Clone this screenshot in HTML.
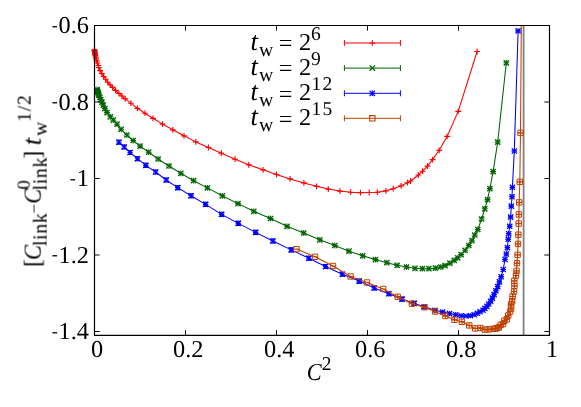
<!DOCTYPE html>
<html><head><meta charset="utf-8"><title>plot</title>
<style>html,body{margin:0;padding:0;background:#fff;width:581px;height:407px;overflow:hidden}
body{font-family:"Liberation Serif",serif;position:relative}</style></head>
<body>
<svg width="581" height="407" viewBox="0 0 581 407" style="display:block;position:absolute;left:0;top:0">
<rect width="581" height="407" fill="#fff"/>
<line x1="523.6" y1="25.5" x2="523.6" y2="335.3" stroke="#808080" stroke-width="1.8"/>
<g stroke-linejoin="round">
<polyline fill="none" stroke="#ff0000" stroke-width="1.05" points="94.5,49.5 94.5,49.8 94.6,50.3 94.6,50.7 94.7,51.3 94.8,51.9 94.9,52.7 95.0,53.6 95.1,54.6 95.4,55.8 95.7,57.2 96.1,58.9 96.7,60.8 97.4,63.0 98.2,65.5 98.8,67.5 100.1,70.6 101.9,73.6 103.6,76.5 105.7,79.2 107.7,82.2 110.1,84.8 112.5,87.3 115.6,90.3 118.9,93.3 122.0,96.0 125.2,98.9 130.9,103.2 137.4,108.3 145.0,113.2 153.0,118.3 162.5,124.1 172.8,129.8 184.0,135.8 195.8,141.9 208.4,147.5 221.3,153.2 235.1,159.2 248.8,164.8 263.0,169.8 276.5,174.5 290.1,178.9 303.9,182.9 316.6,186.3 328.3,189.1 340.0,191.1 350.7,192.2 360.5,192.7 369.2,192.5 377.3,192.2 385.9,190.8 393.2,188.7 401.1,185.8 407.5,182.7 410.6,181.0 418.3,175.0 422.6,171.2 427.5,166.1 432.6,159.6 439.2,150.3 447.2,136.3 458.2,111.4 477.1,51.5"/>
<path d="M91.6,49.5h5.8M94.5,46.6v5.8M91.6,49.8h5.8M94.5,46.9v5.8M91.7,50.3h5.8M94.6,47.4v5.8M91.7,50.7h5.8M94.6,47.8v5.8M91.8,51.3h5.8M94.7,48.4v5.8M91.9,51.9h5.8M94.8,49.0v5.8M92.0,52.7h5.8M94.9,49.8v5.8M92.1,53.6h5.8M95.0,50.7v5.8M92.2,54.6h5.8M95.1,51.7v5.8M92.5,55.8h5.8M95.4,52.9v5.8M92.8,57.2h5.8M95.7,54.3v5.8M93.2,58.9h5.8M96.1,56.0v5.8M93.8,60.8h5.8M96.7,57.9v5.8M94.5,63.0h5.8M97.4,60.1v5.8M95.3,65.5h5.8M98.2,62.6v5.8M95.9,67.5h5.8M98.8,64.6v5.8M97.2,70.6h5.8M100.1,67.7v5.8M99.0,73.6h5.8M101.9,70.7v5.8M100.7,76.5h5.8M103.6,73.6v5.8M102.8,79.2h5.8M105.7,76.3v5.8M104.8,82.2h5.8M107.7,79.3v5.8M107.2,84.8h5.8M110.1,81.9v5.8M109.6,87.3h5.8M112.5,84.4v5.8M112.7,90.3h5.8M115.6,87.4v5.8M116.0,93.3h5.8M118.9,90.4v5.8M119.1,96.0h5.8M122.0,93.1v5.8M122.3,98.9h5.8M125.2,96.0v5.8M128.0,103.2h5.8M130.9,100.3v5.8M134.5,108.3h5.8M137.4,105.4v5.8M142.1,113.2h5.8M145.0,110.3v5.8M150.1,118.3h5.8M153.0,115.4v5.8M159.6,124.1h5.8M162.5,121.2v5.8M169.9,129.8h5.8M172.8,126.9v5.8M181.1,135.8h5.8M184.0,132.9v5.8M192.9,141.9h5.8M195.8,139.0v5.8M205.5,147.5h5.8M208.4,144.6v5.8M218.4,153.2h5.8M221.3,150.3v5.8M232.2,159.2h5.8M235.1,156.3v5.8M245.9,164.8h5.8M248.8,161.9v5.8M260.1,169.8h5.8M263.0,166.9v5.8M273.6,174.5h5.8M276.5,171.6v5.8M287.2,178.9h5.8M290.1,176.0v5.8M301.0,182.9h5.8M303.9,180.0v5.8M313.7,186.3h5.8M316.6,183.4v5.8M325.4,189.1h5.8M328.3,186.2v5.8M337.1,191.1h5.8M340.0,188.2v5.8M347.8,192.2h5.8M350.7,189.3v5.8M357.6,192.7h5.8M360.5,189.8v5.8M366.3,192.5h5.8M369.2,189.6v5.8M374.4,192.2h5.8M377.3,189.3v5.8M383.0,190.8h5.8M385.9,187.9v5.8M390.3,188.7h5.8M393.2,185.8v5.8M398.2,185.8h5.8M401.1,182.9v5.8M404.6,182.7h5.8M407.5,179.8v5.8M407.7,181.0h5.8M410.6,178.1v5.8M415.4,175.0h5.8M418.3,172.1v5.8M419.7,171.2h5.8M422.6,168.3v5.8M424.6,166.1h5.8M427.5,163.2v5.8M429.7,159.6h5.8M432.6,156.7v5.8M436.3,150.3h5.8M439.2,147.4v5.8M444.3,136.3h5.8M447.2,133.4v5.8M455.3,111.4h5.8M458.2,108.5v5.8M474.2,51.5h5.8M477.1,48.6v5.8" stroke="#ff0000" stroke-width="1.15" fill="none"/>
<polyline fill="none" stroke="#006400" stroke-width="1.05" points="97.0,89.5 97.3,90.4 97.6,91.4 98.0,92.5 98.5,93.9 99.0,95.5 99.9,97.4 100.8,99.5 101.9,102.1 103.2,105.1 104.9,108.6 107.0,112.6 110.3,116.8 113.3,120.2 117.0,124.2 121.1,129.3 126.8,135.0 133.2,140.5 140.1,146.1 148.7,152.2 158.1,159.0 169.0,166.0 180.8,173.3 193.6,180.7 207.4,187.9 222.3,195.8 238.0,203.6 253.8,211.3 270.5,218.5 287.0,226.3 303.7,233.0 319.8,239.8 334.8,245.5 349.0,251.2 362.7,255.8 375.4,259.6 386.8,262.7 397.1,265.3 406.5,267.0 415.0,268.3 422.4,268.7 428.9,268.7 435.3,268.2 440.8,267.0 445.1,265.6 449.9,263.2 454.2,260.3 457.7,257.8 461.1,254.6 465.1,250.3 468.8,245.5 471.9,240.7 474.8,235.0 477.8,229.5 481.6,219.0 484.8,208.8 487.5,199.6 489.9,188.6 493.1,171.6 497.7,142.1 506.3,62.8"/>
<path d="M94.1,89.5h5.8M97.0,86.6v5.8M94.4,90.4h5.8M97.3,87.5v5.8M94.7,91.4h5.8M97.6,88.5v5.8M95.1,92.5h5.8M98.0,89.6v5.8M95.6,93.9h5.8M98.5,91.0v5.8M96.1,95.5h5.8M99.0,92.6v5.8M97.0,97.4h5.8M99.9,94.5v5.8M97.9,99.5h5.8M100.8,96.6v5.8M99.0,102.1h5.8M101.9,99.2v5.8M100.3,105.1h5.8M103.2,102.2v5.8M102.0,108.6h5.8M104.9,105.7v5.8M104.1,112.6h5.8M107.0,109.7v5.8M107.4,116.8h5.8M110.3,113.9v5.8M110.4,120.2h5.8M113.3,117.3v5.8M114.1,124.2h5.8M117.0,121.3v5.8M118.2,129.3h5.8M121.1,126.4v5.8M123.9,135.0h5.8M126.8,132.1v5.8M130.3,140.5h5.8M133.2,137.6v5.8M137.2,146.1h5.8M140.1,143.2v5.8M145.8,152.2h5.8M148.7,149.3v5.8M155.2,159.0h5.8M158.1,156.1v5.8M166.1,166.0h5.8M169.0,163.1v5.8M177.9,173.3h5.8M180.8,170.4v5.8M190.7,180.7h5.8M193.6,177.8v5.8M204.5,187.9h5.8M207.4,185.0v5.8M219.4,195.8h5.8M222.3,192.9v5.8M235.1,203.6h5.8M238.0,200.7v5.8M250.9,211.3h5.8M253.8,208.4v5.8M267.6,218.5h5.8M270.5,215.6v5.8M284.1,226.3h5.8M287.0,223.4v5.8M300.8,233.0h5.8M303.7,230.1v5.8M316.9,239.8h5.8M319.8,236.9v5.8M331.9,245.5h5.8M334.8,242.6v5.8M346.1,251.2h5.8M349.0,248.3v5.8M359.8,255.8h5.8M362.7,252.9v5.8M372.5,259.6h5.8M375.4,256.7v5.8M383.9,262.7h5.8M386.8,259.8v5.8M394.2,265.3h5.8M397.1,262.4v5.8M403.6,267.0h5.8M406.5,264.1v5.8M412.1,268.3h5.8M415.0,265.4v5.8M419.5,268.7h5.8M422.4,265.8v5.8M426.0,268.7h5.8M428.9,265.8v5.8M432.4,268.2h5.8M435.3,265.3v5.8M437.9,267.0h5.8M440.8,264.1v5.8M442.2,265.6h5.8M445.1,262.7v5.8M447.0,263.2h5.8M449.9,260.3v5.8M451.3,260.3h5.8M454.2,257.4v5.8M454.8,257.8h5.8M457.7,254.9v5.8M458.2,254.6h5.8M461.1,251.7v5.8M462.2,250.3h5.8M465.1,247.4v5.8M465.9,245.5h5.8M468.8,242.6v5.8M469.0,240.7h5.8M471.9,237.8v5.8M471.9,235.0h5.8M474.8,232.1v5.8M474.9,229.5h5.8M477.8,226.6v5.8M478.7,219.0h5.8M481.6,216.1v5.8M481.9,208.8h5.8M484.8,205.9v5.8M484.6,199.6h5.8M487.5,196.7v5.8M487.0,188.6h5.8M489.9,185.7v5.8M490.2,171.6h5.8M493.1,168.7v5.8M494.8,142.1h5.8M497.7,139.2v5.8M503.4,62.8h5.8M506.3,59.9v5.8" stroke="#006400" stroke-width="1.05" fill="none"/>
<path d="M94.4,86.9l5.2,5.2M94.4,92.1l5.2,-5.2M94.7,87.8l5.2,5.2M94.7,93.0l5.2,-5.2M95.0,88.8l5.2,5.2M95.0,94.0l5.2,-5.2M95.4,89.9l5.2,5.2M95.4,95.1l5.2,-5.2M95.9,91.3l5.2,5.2M95.9,96.5l5.2,-5.2M96.4,92.9l5.2,5.2M96.4,98.1l5.2,-5.2M97.3,94.8l5.2,5.2M97.3,100.0l5.2,-5.2M98.2,96.9l5.2,5.2M98.2,102.1l5.2,-5.2M99.3,99.5l5.2,5.2M99.3,104.7l5.2,-5.2M100.6,102.5l5.2,5.2M100.6,107.7l5.2,-5.2M102.3,106.0l5.2,5.2M102.3,111.2l5.2,-5.2M104.4,110.0l5.2,5.2M104.4,115.2l5.2,-5.2M107.7,114.2l5.2,5.2M107.7,119.4l5.2,-5.2M110.7,117.6l5.2,5.2M110.7,122.8l5.2,-5.2M114.4,121.6l5.2,5.2M114.4,126.8l5.2,-5.2M118.5,126.7l5.2,5.2M118.5,131.9l5.2,-5.2M124.2,132.4l5.2,5.2M124.2,137.6l5.2,-5.2M130.6,137.9l5.2,5.2M130.6,143.1l5.2,-5.2M137.5,143.5l5.2,5.2M137.5,148.7l5.2,-5.2M146.1,149.6l5.2,5.2M146.1,154.8l5.2,-5.2M155.5,156.4l5.2,5.2M155.5,161.6l5.2,-5.2M166.4,163.4l5.2,5.2M166.4,168.6l5.2,-5.2M178.2,170.7l5.2,5.2M178.2,175.9l5.2,-5.2M191.0,178.1l5.2,5.2M191.0,183.3l5.2,-5.2M204.8,185.3l5.2,5.2M204.8,190.5l5.2,-5.2M219.7,193.2l5.2,5.2M219.7,198.4l5.2,-5.2M235.4,201.0l5.2,5.2M235.4,206.2l5.2,-5.2M251.2,208.7l5.2,5.2M251.2,213.9l5.2,-5.2M267.9,215.9l5.2,5.2M267.9,221.1l5.2,-5.2M284.4,223.7l5.2,5.2M284.4,228.9l5.2,-5.2M301.1,230.4l5.2,5.2M301.1,235.6l5.2,-5.2M317.2,237.2l5.2,5.2M317.2,242.4l5.2,-5.2M332.2,242.9l5.2,5.2M332.2,248.1l5.2,-5.2M346.4,248.6l5.2,5.2M346.4,253.8l5.2,-5.2M360.1,253.2l5.2,5.2M360.1,258.4l5.2,-5.2M372.8,257.0l5.2,5.2M372.8,262.2l5.2,-5.2M384.2,260.1l5.2,5.2M384.2,265.3l5.2,-5.2M394.5,262.7l5.2,5.2M394.5,267.9l5.2,-5.2M403.9,264.4l5.2,5.2M403.9,269.6l5.2,-5.2M412.4,265.7l5.2,5.2M412.4,270.9l5.2,-5.2M419.8,266.1l5.2,5.2M419.8,271.3l5.2,-5.2M426.3,266.1l5.2,5.2M426.3,271.3l5.2,-5.2M432.7,265.6l5.2,5.2M432.7,270.8l5.2,-5.2M438.2,264.4l5.2,5.2M438.2,269.6l5.2,-5.2M442.5,263.0l5.2,5.2M442.5,268.2l5.2,-5.2M447.3,260.6l5.2,5.2M447.3,265.8l5.2,-5.2M451.6,257.7l5.2,5.2M451.6,262.9l5.2,-5.2M455.1,255.2l5.2,5.2M455.1,260.4l5.2,-5.2M458.5,252.0l5.2,5.2M458.5,257.2l5.2,-5.2M462.5,247.7l5.2,5.2M462.5,252.9l5.2,-5.2M466.2,242.9l5.2,5.2M466.2,248.1l5.2,-5.2M469.3,238.1l5.2,5.2M469.3,243.3l5.2,-5.2M472.2,232.4l5.2,5.2M472.2,237.6l5.2,-5.2M475.2,226.9l5.2,5.2M475.2,232.1l5.2,-5.2M479.0,216.4l5.2,5.2M479.0,221.6l5.2,-5.2M482.2,206.2l5.2,5.2M482.2,211.4l5.2,-5.2M484.9,197.0l5.2,5.2M484.9,202.2l5.2,-5.2M487.3,186.0l5.2,5.2M487.3,191.2l5.2,-5.2M490.5,169.0l5.2,5.2M490.5,174.2l5.2,-5.2M495.1,139.5l5.2,5.2M495.1,144.7l5.2,-5.2M503.7,60.2l5.2,5.2M503.7,65.4l5.2,-5.2" stroke="#006400" stroke-width="1.35" fill="none"/>
<polyline fill="none" stroke="#0000ff" stroke-width="1.05" points="118.9,142.2 124.2,147.0 130.1,152.5 137.5,158.7 145.8,165.4 155.6,172.0 166.2,180.0 177.7,187.6 191.0,195.8 205.6,204.4 221.6,214.4 238.3,223.4 255.6,232.4 272.9,241.0 291.3,249.9 308.9,258.2 325.5,266.5 342.4,274.2 359.2,281.1 374.2,288.0 388.8,293.7 402.0,299.1 414.1,303.4 424.4,306.8 434.8,310.3 442.6,312.0 449.5,313.6 455.7,314.7 461.2,315.8 466.1,316.0 470.4,315.7 474.1,314.7 477.3,313.3 480.0,311.8 483.0,310.2 484.9,308.4 486.9,306.4 488.7,304.0 490.6,301.2 492.4,298.1 494.1,294.6 495.9,290.8 497.7,286.6 499.4,281.9 501.1,276.7 503.2,269.5 505.0,259.5 506.3,254.0 507.4,247.6 508.2,239.3 508.7,233.7 509.7,226.3 510.6,217.1 511.3,206.1 512.0,196.8 512.4,187.3 514.3,151.0 518.1,30.9"/>
<path d="M116.2,140.20h5.4M116.2,144.20h5.4M118.9,140.20v4.00" stroke="#0000ff" stroke-width="1.1" fill="none"/><path d="M121.5,145.00h5.4M121.5,149.00h5.4M124.2,145.00v4.00" stroke="#0000ff" stroke-width="1.1" fill="none"/><path d="M127.4,150.50h5.4M127.4,154.50h5.4M130.1,150.50v4.00" stroke="#0000ff" stroke-width="1.1" fill="none"/><path d="M134.8,156.70h5.4M134.8,160.70h5.4M137.5,156.70v4.00" stroke="#0000ff" stroke-width="1.1" fill="none"/><path d="M143.1,163.40h5.4M143.1,167.40h5.4M145.8,163.40v4.00" stroke="#0000ff" stroke-width="1.1" fill="none"/><path d="M152.9,170.00h5.4M152.9,174.00h5.4M155.6,170.00v4.00" stroke="#0000ff" stroke-width="1.1" fill="none"/><path d="M163.5,178.00h5.4M163.5,182.00h5.4M166.2,178.00v4.00" stroke="#0000ff" stroke-width="1.1" fill="none"/><path d="M175.0,185.60h5.4M175.0,189.60h5.4M177.7,185.60v4.00" stroke="#0000ff" stroke-width="1.1" fill="none"/><path d="M188.3,193.80h5.4M188.3,197.80h5.4M191.0,193.80v4.00" stroke="#0000ff" stroke-width="1.1" fill="none"/><path d="M202.9,202.40h5.4M202.9,206.40h5.4M205.6,202.40v4.00" stroke="#0000ff" stroke-width="1.1" fill="none"/><path d="M218.9,212.40h5.4M218.9,216.40h5.4M221.6,212.40v4.00" stroke="#0000ff" stroke-width="1.1" fill="none"/><path d="M235.6,221.40h5.4M235.6,225.40h5.4M238.3,221.40v4.00" stroke="#0000ff" stroke-width="1.1" fill="none"/><path d="M252.9,230.40h5.4M252.9,234.40h5.4M255.6,230.40v4.00" stroke="#0000ff" stroke-width="1.1" fill="none"/><path d="M270.2,239.00h5.4M270.2,243.00h5.4M272.9,239.00v4.00" stroke="#0000ff" stroke-width="1.1" fill="none"/><path d="M288.6,247.90h5.4M288.6,251.90h5.4M291.3,247.90v4.00" stroke="#0000ff" stroke-width="1.1" fill="none"/><path d="M306.2,256.20h5.4M306.2,260.20h5.4M308.9,256.20v4.00" stroke="#0000ff" stroke-width="1.1" fill="none"/><path d="M322.8,264.50h5.4M322.8,268.50h5.4M325.5,264.50v4.00" stroke="#0000ff" stroke-width="1.1" fill="none"/><path d="M339.7,272.20h5.4M339.7,276.20h5.4M342.4,272.20v4.00" stroke="#0000ff" stroke-width="1.1" fill="none"/><path d="M356.5,279.10h5.4M356.5,283.10h5.4M359.2,279.10v4.00" stroke="#0000ff" stroke-width="1.1" fill="none"/><path d="M371.5,286.00h5.4M371.5,290.00h5.4M374.2,286.00v4.00" stroke="#0000ff" stroke-width="1.1" fill="none"/><path d="M386.1,291.70h5.4M386.1,295.70h5.4M388.8,291.70v4.00" stroke="#0000ff" stroke-width="1.1" fill="none"/><path d="M399.3,297.10h5.4M399.3,301.10h5.4M402.0,297.10v4.00" stroke="#0000ff" stroke-width="1.1" fill="none"/><path d="M411.4,301.40h5.4M411.4,305.40h5.4M414.1,301.40v4.00" stroke="#0000ff" stroke-width="1.1" fill="none"/><path d="M421.7,304.80h5.4M421.7,308.80h5.4M424.4,304.80v4.00" stroke="#0000ff" stroke-width="1.1" fill="none"/><path d="M432.1,308.95h5.4M432.1,311.65h5.4M434.8,308.95v2.69" stroke="#0000ff" stroke-width="1.1" fill="none"/><path d="M439.9,311.20h5.4M439.9,312.85h5.4M442.6,311.20v1.65" stroke="#0000ff" stroke-width="1.1" fill="none"/><path d="M446.8,313.19h5.4M446.8,313.92h5.4M449.5,313.19v0.73" stroke="#0000ff" stroke-width="1.1" fill="none"/><path d="M453.0,314.7h5.4" stroke="#0000ff" stroke-width="1.1" fill="none"/><path d="M458.5,315.8h5.4" stroke="#0000ff" stroke-width="1.1" fill="none"/><path d="M463.4,316.0h5.4" stroke="#0000ff" stroke-width="1.1" fill="none"/><path d="M467.7,315.7h5.4" stroke="#0000ff" stroke-width="1.1" fill="none"/><path d="M471.4,314.7h5.4" stroke="#0000ff" stroke-width="1.1" fill="none"/><path d="M474.6,313.3h5.4" stroke="#0000ff" stroke-width="1.1" fill="none"/><path d="M477.3,311.8h5.4" stroke="#0000ff" stroke-width="1.1" fill="none"/><path d="M480.3,310.2h5.4" stroke="#0000ff" stroke-width="1.1" fill="none"/><path d="M482.2,308.4h5.4" stroke="#0000ff" stroke-width="1.1" fill="none"/><path d="M484.2,306.4h5.4" stroke="#0000ff" stroke-width="1.1" fill="none"/><path d="M486.0,304.0h5.4" stroke="#0000ff" stroke-width="1.1" fill="none"/><path d="M487.9,301.2h5.4" stroke="#0000ff" stroke-width="1.1" fill="none"/><path d="M489.7,298.1h5.4" stroke="#0000ff" stroke-width="1.1" fill="none"/><path d="M491.4,294.6h5.4" stroke="#0000ff" stroke-width="1.1" fill="none"/><path d="M493.2,290.8h5.4" stroke="#0000ff" stroke-width="1.1" fill="none"/><path d="M495.0,286.6h5.4" stroke="#0000ff" stroke-width="1.1" fill="none"/><path d="M496.7,281.9h5.4" stroke="#0000ff" stroke-width="1.1" fill="none"/><path d="M498.4,276.7h5.4" stroke="#0000ff" stroke-width="1.1" fill="none"/><path d="M500.5,269.5h5.4" stroke="#0000ff" stroke-width="1.1" fill="none"/><path d="M502.3,259.5h5.4" stroke="#0000ff" stroke-width="1.1" fill="none"/><path d="M503.6,254.0h5.4" stroke="#0000ff" stroke-width="1.1" fill="none"/><path d="M504.7,247.6h5.4" stroke="#0000ff" stroke-width="1.1" fill="none"/><path d="M505.5,239.3h5.4" stroke="#0000ff" stroke-width="1.1" fill="none"/><path d="M506.0,233.7h5.4" stroke="#0000ff" stroke-width="1.1" fill="none"/><path d="M507.0,226.3h5.4" stroke="#0000ff" stroke-width="1.1" fill="none"/><path d="M507.9,217.1h5.4" stroke="#0000ff" stroke-width="1.1" fill="none"/><path d="M508.6,206.1h5.4" stroke="#0000ff" stroke-width="1.1" fill="none"/><path d="M509.3,196.8h5.4" stroke="#0000ff" stroke-width="1.1" fill="none"/><path d="M509.7,187.3h5.4" stroke="#0000ff" stroke-width="1.1" fill="none"/><path d="M511.6,151.0h5.4" stroke="#0000ff" stroke-width="1.1" fill="none"/><path d="M515.4,30.9h5.4" stroke="#0000ff" stroke-width="1.1" fill="none"/>
<path d="M116.3,142.2h5.2M118.9,139.6v5.2M121.6,147.0h5.2M124.2,144.4v5.2M127.5,152.5h5.2M130.1,149.9v5.2M134.9,158.7h5.2M137.5,156.1v5.2M143.2,165.4h5.2M145.8,162.8v5.2M153.0,172.0h5.2M155.6,169.4v5.2M163.6,180.0h5.2M166.2,177.4v5.2M175.1,187.6h5.2M177.7,185.0v5.2M188.4,195.8h5.2M191.0,193.2v5.2M203.0,204.4h5.2M205.6,201.8v5.2M219.0,214.4h5.2M221.6,211.8v5.2M235.7,223.4h5.2M238.3,220.8v5.2M253.0,232.4h5.2M255.6,229.8v5.2M270.3,241.0h5.2M272.9,238.4v5.2M288.7,249.9h5.2M291.3,247.3v5.2M306.3,258.2h5.2M308.9,255.6v5.2M322.9,266.5h5.2M325.5,263.9v5.2M339.8,274.2h5.2M342.4,271.6v5.2M356.6,281.1h5.2M359.2,278.5v5.2M371.6,288.0h5.2M374.2,285.4v5.2M386.2,293.7h5.2M388.8,291.1v5.2M399.4,299.1h5.2M402.0,296.5v5.2M411.5,303.4h5.2M414.1,300.8v5.2M421.8,306.8h5.2M424.4,304.2v5.2M432.2,310.3h5.2M434.8,307.7v5.2M440.0,312.0h5.2M442.6,309.4v5.2M446.9,313.6h5.2M449.5,311.0v5.2M453.1,314.7h5.2M455.7,312.1v5.2M458.6,315.8h5.2M461.2,313.2v5.2M463.5,316.0h5.2M466.1,313.4v5.2M467.8,315.7h5.2M470.4,313.1v5.2M471.5,314.7h5.2M474.1,312.1v5.2M474.7,313.3h5.2M477.3,310.7v5.2M477.4,311.8h5.2M480.0,309.2v5.2M480.4,310.2h5.2M483.0,307.6v5.2M482.3,308.4h5.2M484.9,305.8v5.2M484.3,306.4h5.2M486.9,303.8v5.2M486.1,304.0h5.2M488.7,301.4v5.2M488.0,301.2h5.2M490.6,298.6v5.2M489.8,298.1h5.2M492.4,295.5v5.2M491.5,294.6h5.2M494.1,292.0v5.2M493.3,290.8h5.2M495.9,288.2v5.2M495.1,286.6h5.2M497.7,284.0v5.2M496.8,281.9h5.2M499.4,279.3v5.2M498.5,276.7h5.2M501.1,274.1v5.2M500.6,269.5h5.2M503.2,266.9v5.2M502.4,259.5h5.2M505.0,256.9v5.2M503.7,254.0h5.2M506.3,251.4v5.2M504.8,247.6h5.2M507.4,245.0v5.2M505.6,239.3h5.2M508.2,236.7v5.2M506.1,233.7h5.2M508.7,231.1v5.2M507.1,226.3h5.2M509.7,223.7v5.2M508.0,217.1h5.2M510.6,214.5v5.2M508.7,206.1h5.2M511.3,203.5v5.2M509.4,196.8h5.2M512.0,194.2v5.2M509.8,187.3h5.2M512.4,184.7v5.2M511.7,151.0h5.2M514.3,148.4v5.2M515.5,30.9h5.2M518.1,28.3v5.2" stroke="#0000ff" stroke-width="1.1" fill="none"/>
<path d="M116.3,139.6l5.2,5.2M116.3,144.8l5.2,-5.2M121.6,144.4l5.2,5.2M121.6,149.6l5.2,-5.2M127.5,149.9l5.2,5.2M127.5,155.1l5.2,-5.2M134.9,156.1l5.2,5.2M134.9,161.3l5.2,-5.2M143.2,162.8l5.2,5.2M143.2,168.0l5.2,-5.2M153.0,169.4l5.2,5.2M153.0,174.6l5.2,-5.2M163.6,177.4l5.2,5.2M163.6,182.6l5.2,-5.2M175.1,185.0l5.2,5.2M175.1,190.2l5.2,-5.2M188.4,193.2l5.2,5.2M188.4,198.4l5.2,-5.2M203.0,201.8l5.2,5.2M203.0,207.0l5.2,-5.2M219.0,211.8l5.2,5.2M219.0,217.0l5.2,-5.2M235.7,220.8l5.2,5.2M235.7,226.0l5.2,-5.2M253.0,229.8l5.2,5.2M253.0,235.0l5.2,-5.2M270.3,238.4l5.2,5.2M270.3,243.6l5.2,-5.2M288.7,247.3l5.2,5.2M288.7,252.5l5.2,-5.2M306.3,255.6l5.2,5.2M306.3,260.8l5.2,-5.2M322.9,263.9l5.2,5.2M322.9,269.1l5.2,-5.2M339.8,271.6l5.2,5.2M339.8,276.8l5.2,-5.2M356.6,278.5l5.2,5.2M356.6,283.7l5.2,-5.2M371.6,285.4l5.2,5.2M371.6,290.6l5.2,-5.2M386.2,291.1l5.2,5.2M386.2,296.3l5.2,-5.2M399.4,296.5l5.2,5.2M399.4,301.7l5.2,-5.2M411.5,300.8l5.2,5.2M411.5,306.0l5.2,-5.2M421.8,304.2l5.2,5.2M421.8,309.4l5.2,-5.2M432.2,307.7l5.2,5.2M432.2,312.9l5.2,-5.2M440.0,309.4l5.2,5.2M440.0,314.6l5.2,-5.2M446.9,311.0l5.2,5.2M446.9,316.2l5.2,-5.2M453.1,312.1l5.2,5.2M453.1,317.3l5.2,-5.2M458.6,313.2l5.2,5.2M458.6,318.4l5.2,-5.2M463.5,313.4l5.2,5.2M463.5,318.6l5.2,-5.2M467.8,313.1l5.2,5.2M467.8,318.3l5.2,-5.2M471.5,312.1l5.2,5.2M471.5,317.3l5.2,-5.2M474.7,310.7l5.2,5.2M474.7,315.9l5.2,-5.2M477.4,309.2l5.2,5.2M477.4,314.4l5.2,-5.2M480.4,307.6l5.2,5.2M480.4,312.8l5.2,-5.2M482.3,305.8l5.2,5.2M482.3,311.0l5.2,-5.2M484.3,303.8l5.2,5.2M484.3,309.0l5.2,-5.2M486.1,301.4l5.2,5.2M486.1,306.6l5.2,-5.2M488.0,298.6l5.2,5.2M488.0,303.8l5.2,-5.2M489.8,295.5l5.2,5.2M489.8,300.7l5.2,-5.2M491.5,292.0l5.2,5.2M491.5,297.2l5.2,-5.2M493.3,288.2l5.2,5.2M493.3,293.4l5.2,-5.2M495.1,284.0l5.2,5.2M495.1,289.2l5.2,-5.2M496.8,279.3l5.2,5.2M496.8,284.5l5.2,-5.2M498.5,274.1l5.2,5.2M498.5,279.3l5.2,-5.2M500.6,266.9l5.2,5.2M500.6,272.1l5.2,-5.2M502.4,256.9l5.2,5.2M502.4,262.1l5.2,-5.2M503.7,251.4l5.2,5.2M503.7,256.6l5.2,-5.2M504.8,245.0l5.2,5.2M504.8,250.2l5.2,-5.2M505.6,236.7l5.2,5.2M505.6,241.9l5.2,-5.2M506.1,231.1l5.2,5.2M506.1,236.3l5.2,-5.2M507.1,223.7l5.2,5.2M507.1,228.9l5.2,-5.2M508.0,214.5l5.2,5.2M508.0,219.7l5.2,-5.2M508.7,203.5l5.2,5.2M508.7,208.7l5.2,-5.2M509.4,194.2l5.2,5.2M509.4,199.4l5.2,-5.2M509.8,184.7l5.2,5.2M509.8,189.9l5.2,-5.2M511.7,148.4l5.2,5.2M511.7,153.6l5.2,-5.2M515.5,28.3l5.2,5.2M515.5,33.5l5.2,-5.2" stroke="#0000ff" stroke-width="1.3" fill="none"/>
<polyline fill="none" stroke="#c04000" stroke-width="1.05" points="296.5,249.1 315.1,256.8 333.0,266.0 350.6,276.5 367.0,282.5 383.2,289.0 397.7,296.8 411.9,303.7 424.4,307.2 435.1,311.5 445.4,316.0 454.5,319.8 461.9,321.8 469.2,325.4 475.2,328.4 480.4,328.0 484.7,329.6 488.7,329.4 492.8,328.9 495.6,328.6 497.4,328.0 498.8,327.4 500.6,324.9 503.0,324.1 504.3,320.8 506.8,319.3 508.2,315.5 510.1,311.6 511.1,308.5 511.0,304.4 512.1,301.4 512.6,296.6 514.0,291.5 514.4,286.0 514.3,280.9 516.0,275.5 516.5,270.9 517.0,263.2 517.6,254.9 518.0,243.9 518.3,234.7 518.7,223.6 518.9,214.4 519.2,202.4 519.8,181.8 520.5,132.9 521.3,25.2"/>
<path d="M293.6,249.1h5.8M312.2,256.8h5.8M330.1,266.0h5.8M347.7,276.5h5.8M364.1,282.5h5.8M380.3,289.0h5.8M394.8,296.8h5.8M409.0,303.7h5.8M421.5,307.2h5.8M432.2,311.5h5.8M442.5,316.0h5.8M451.6,319.8h5.8M459.0,321.8h5.8M466.3,325.4h5.8M472.3,328.4h5.8M477.5,328.0h5.8M481.8,329.6h5.8M485.8,329.4h5.8M489.9,328.9h5.8M492.7,328.6h5.8M494.5,328.0h5.8M495.9,327.4h5.8M497.7,324.9h5.8M500.1,324.1h5.8M501.4,320.8h5.8M503.9,319.3h5.8M505.3,315.5h5.8M507.2,311.6h5.8M508.2,308.5h5.8M508.1,304.4h5.8M509.2,301.4h5.8M509.7,296.6h5.8M511.1,291.5h5.8M511.5,286.0h5.8M511.4,280.9h5.8M513.1,275.5h5.8M513.6,270.9h5.8M514.1,263.2h5.8M514.7,254.9h5.8M515.1,243.9h5.8M515.4,234.7h5.8M515.8,223.6h5.8M516.0,214.4h5.8M516.3,202.4h5.8M516.9,181.8h5.8M517.6,132.9h5.8" stroke="#c04000" stroke-width="1.0" fill="none"/>
<path d="M394.8,296.8h5.8M397.7,293.9v5.8M409.0,303.7h5.8M411.9,300.8v5.8M421.5,307.2h5.8M424.4,304.3v5.8M432.2,311.5h5.8M435.1,308.6v5.8M442.5,316.0h5.8M445.4,313.1v5.8M451.6,319.8h5.8M454.5,316.9v5.8M459.0,321.8h5.8M461.9,318.9v5.8M466.3,325.4h5.8M469.2,322.5v5.8M472.3,328.4h5.8M475.2,325.5v5.8M477.5,328.0h5.8M480.4,325.1v5.8M481.8,329.6h5.8M484.7,326.7v5.8M485.8,329.4h5.8M488.7,326.5v5.8M489.9,328.9h5.8M492.8,326.0v5.8M492.7,328.6h5.8M495.6,325.7v5.8M494.5,328.0h5.8M497.4,325.1v5.8M495.9,327.4h5.8M498.8,324.5v5.8M497.7,324.9h5.8M500.6,322.0v5.8M500.1,324.1h5.8M503.0,321.2v5.8M501.4,320.8h5.8M504.3,317.9v5.8M503.9,319.3h5.8M506.8,316.4v5.8M505.3,315.5h5.8M508.2,312.6v5.8M507.2,311.6h5.8M510.1,308.7v5.8M508.2,308.5h5.8M511.1,305.6v5.8M508.1,304.4h5.8M511.0,301.5v5.8M509.2,301.4h5.8M512.1,298.5v5.8M509.7,296.6h5.8M512.6,293.7v5.8M511.1,291.5h5.8M514.0,288.6v5.8M511.5,286.0h5.8M514.4,283.1v5.8M511.4,280.9h5.8M514.3,278.0v5.8M513.1,275.5h5.8M516.0,272.6v5.8M513.6,270.9h5.8M516.5,268.0v5.8M514.1,263.2h5.8M517.0,260.3v5.8M514.7,254.9h5.8M517.6,252.0v5.8M515.1,243.9h5.8M518.0,241.0v5.8M515.4,234.7h5.8M518.3,231.8v5.8M515.8,223.6h5.8M518.7,220.7v5.8M516.0,214.4h5.8M518.9,211.5v5.8M516.3,202.4h5.8M519.2,199.5v5.8M516.9,181.8h5.8M519.8,178.9v5.8M517.6,132.9h5.8M520.5,130.0v5.8" stroke="#c04000" stroke-width="1.0" fill="none"/>
<path d="M293.8,246.4h5.4v5.4h-5.4zM312.4,254.1h5.4v5.4h-5.4zM330.3,263.3h5.4v5.4h-5.4zM347.9,273.8h5.4v5.4h-5.4zM364.3,279.8h5.4v5.4h-5.4zM380.5,286.3h5.4v5.4h-5.4zM395.0,294.1h5.4v5.4h-5.4zM409.2,301.0h5.4v5.4h-5.4zM421.7,304.5h5.4v5.4h-5.4zM432.4,308.8h5.4v5.4h-5.4zM442.7,313.3h5.4v5.4h-5.4zM451.8,317.1h5.4v5.4h-5.4zM459.2,319.1h5.4v5.4h-5.4zM466.5,322.7h5.4v5.4h-5.4zM472.5,325.7h5.4v5.4h-5.4zM477.7,325.3h5.4v5.4h-5.4zM482.0,326.9h5.4v5.4h-5.4zM486.0,326.7h5.4v5.4h-5.4zM490.1,326.2h5.4v5.4h-5.4zM492.9,325.9h5.4v5.4h-5.4zM494.7,325.3h5.4v5.4h-5.4zM496.1,324.7h5.4v5.4h-5.4zM497.9,322.2h5.4v5.4h-5.4zM500.3,321.4h5.4v5.4h-5.4zM501.6,318.1h5.4v5.4h-5.4zM504.1,316.6h5.4v5.4h-5.4zM505.5,312.8h5.4v5.4h-5.4zM507.4,308.9h5.4v5.4h-5.4zM508.4,305.8h5.4v5.4h-5.4zM508.3,301.7h5.4v5.4h-5.4zM509.4,298.7h5.4v5.4h-5.4zM509.9,293.9h5.4v5.4h-5.4zM511.3,288.8h5.4v5.4h-5.4zM511.7,283.3h5.4v5.4h-5.4zM511.6,278.2h5.4v5.4h-5.4zM513.3,272.8h5.4v5.4h-5.4zM513.8,268.2h5.4v5.4h-5.4zM514.3,260.5h5.4v5.4h-5.4zM514.9,252.2h5.4v5.4h-5.4zM515.3,241.2h5.4v5.4h-5.4zM515.6,232.0h5.4v5.4h-5.4zM516.0,220.9h5.4v5.4h-5.4zM516.2,211.7h5.4v5.4h-5.4zM516.5,199.7h5.4v5.4h-5.4zM517.1,179.1h5.4v5.4h-5.4zM517.8,130.2h5.4v5.4h-5.4z" stroke="#c04000" stroke-width="1.0" fill="none"/>
</g>
<path d="M344.4,43.0H400.4M344.4,40.0v6M400.4,40.0v6" stroke="#ff0000" stroke-width="1.0" fill="none"/>
<path d="M369.3,43.0h6.0M372.3,40.0v6.0" stroke="#ff0000" stroke-width="1.0" fill="none"/>
<path d="M344.4,68.1H400.4M344.4,65.1v6M400.4,65.1v6" stroke="#006400" stroke-width="1.0" fill="none"/>
<path d="M369.6,65.4l5.4,5.4M369.6,70.8l5.4,-5.4" stroke="#006400" stroke-width="1.25" fill="none"/>
<path d="M344.4,93.3H400.4M344.4,90.3v6M400.4,90.3v6" stroke="#0000ff" stroke-width="1.0" fill="none"/>
<path d="M369.6,93.3h5.4M372.3,90.6v5.4" stroke="#0000ff" stroke-width="1.1" fill="none"/>
<path d="M369.6,90.6l5.4,5.4M369.6,96.0l5.4,-5.4" stroke="#0000ff" stroke-width="1.2" fill="none"/>
<path d="M344.4,118.3H400.4M344.4,115.3v6M400.4,115.3v6" stroke="#c04000" stroke-width="1.0" fill="none"/>
<path d="M369.6,115.6h5.4v5.4h-5.4z" stroke="#c04000" stroke-width="1.1" fill="none"/>
<path d="M185.5,335.3v-5.2M185.5,25.5v5.2M276.5,335.3v-5.2M276.5,25.5v5.2M367.5,335.3v-5.2M367.5,25.5v5.2M458.5,335.3v-5.2M458.5,25.5v5.2M94.5,102.0h5.2M549.5,102.0h-5.2M94.5,178.5h5.2M549.5,178.5h-5.2M94.5,255.0h5.2M549.5,255.0h-5.2M94.5,331.5h5.2M549.5,331.5h-5.2" stroke="#000" stroke-width="0.95" fill="none"/>
<path d="M94.5,25.5H549.5V335.3H94.5Z" stroke="#000" stroke-width="1.2" fill="none" stroke-linejoin="miter"/>
<g font-family="'Liberation Serif', serif" font-size="24.3" fill="#000" style="filter:grayscale(1);text-rendering:geometricPrecision">
<text x="89.8" y="33.4" text-anchor="end"><tspan font-size="18" dy="-2.6" dx="-0.9">-</tspan><tspan dy="2.6" dx="0.9">0.6</tspan></text>
<text x="89.8" y="109.9" text-anchor="end"><tspan font-size="18" dy="-2.6" dx="-0.9">-</tspan><tspan dy="2.6" dx="0.9">0.8</tspan></text>
<text x="89.8" y="186.4" text-anchor="end"><tspan font-size="18" dy="-2.6" dx="-0.9">-</tspan><tspan dy="2.6" dx="0.9">1</tspan></text>
<text x="89.8" y="262.9" text-anchor="end"><tspan font-size="18" dy="-2.6" dx="-0.9">-</tspan><tspan dy="2.6" dx="0.9">1.2</tspan></text>
<text x="89.8" y="339.4" text-anchor="end"><tspan font-size="18" dy="-2.6" dx="-0.9">-</tspan><tspan dy="2.6" dx="0.9">1.4</tspan></text>
<text x="97.2" y="357.3" text-anchor="middle">0</text>
<text x="188.2" y="357.3" text-anchor="middle">0.2</text>
<text x="279.2" y="357.3" text-anchor="middle">0.4</text>
<text x="370.2" y="357.3" text-anchor="middle">0.6</text>
<text x="461.2" y="357.3" text-anchor="middle">0.8</text>
<text x="552.2" y="357.3" text-anchor="middle">1</text>
<text x="250.6" y="49.6" font-style="italic" font-size="26.5">t</text>
<text x="259.0" y="56.0" font-size="19.8">w</text>
<text x="278.8" y="51.3">=</text>
<text x="298.9" y="49.6">2</text>
<text x="311.0" y="40.0" font-size="19.5">6</text>
<text x="250.6" y="74.7" font-style="italic" font-size="26.5">t</text>
<text x="259.0" y="81.1" font-size="19.8">w</text>
<text x="278.8" y="76.4">=</text>
<text x="298.9" y="74.7">2</text>
<text x="311.0" y="65.1" font-size="19.5">9</text>
<text x="250.6" y="99.8" font-style="italic" font-size="26.5">t</text>
<text x="259.0" y="106.2" font-size="19.8">w</text>
<text x="278.8" y="101.5">=</text>
<text x="298.9" y="99.8">2</text>
<text x="311.5" y="90.2" font-size="19.5" letter-spacing="1.2">12</text>
<text x="250.6" y="124.9" font-style="italic" font-size="26.5">t</text>
<text x="259.0" y="131.3" font-size="19.8">w</text>
<text x="278.8" y="126.6">=</text>
<text x="298.9" y="124.9">2</text>
<text x="311.5" y="115.3" font-size="19.5" letter-spacing="1.2">15</text>
<text transform="translate(306.7,380) scale(0.92,1)" font-style="italic">C</text>
<text x="321.8" y="369.6" font-size="19.5">2</text>
<g transform="translate(40.6,265.5) rotate(-90)">
<text transform="translate(-1.6,0) scale(1,1)" font-size="24.3">[</text>
<text transform="translate(5.6,0) scale(0.93,1)" font-size="24.3" font-style="italic">C</text>
<text transform="translate(19.4,6.4) scale(1,1)" font-size="20" letter-spacing="0.6">link</text>
<text transform="translate(52.0,-1.4) scale(1,1)" font-size="17">−</text>
<text transform="translate(61.8,0) scale(0.93,1)" font-size="24.3" font-style="italic">C</text>
<text transform="translate(76.1,-11) scale(1,1)" font-size="18.5">0</text>
<text transform="translate(75.0,6.4) scale(1,1)" font-size="20" letter-spacing="0.6">link</text>
<text transform="translate(106.7,0) scale(1,1)" font-size="24.3">]</text>
<text transform="translate(120.2,0) scale(1,1)" font-size="26.5" font-style="italic">t</text>
<text transform="translate(129.5,6.4) scale(1,1)" font-size="19.8">w</text>
<text transform="translate(143.6,-10.5) scale(1,1)" font-size="19.5" letter-spacing="0.9">1/2</text>
</g>
</g>
</svg>
</body></html>
